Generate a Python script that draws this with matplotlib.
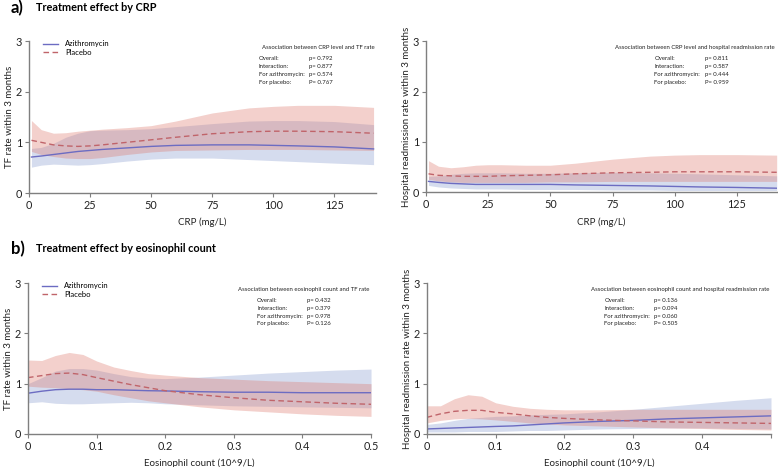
import numpy as np
import matplotlib
matplotlib.use("Agg")
from matplotlib import pyplot as plt

plt.rcParams['font.family'] = ['Lato', 'DejaVu Sans']

# ---- data ----
crp = [1, 5, 10, 15, 20, 25, 30, 40, 50, 60, 75, 90, 100, 110, 125, 141]

tf_crp_azi = [0.71, 0.73, 0.76, 0.79, 0.82, 0.84, 0.86, 0.89, 0.92, 0.94, 0.95, 0.95, 0.94, 0.93, 0.91, 0.87]
tf_crp_azi_lo = [0.51, 0.55, 0.57, 0.56, 0.55, 0.56, 0.58, 0.63, 0.67, 0.69, 0.69, 0.66, 0.64, 0.62, 0.59, 0.56]
tf_crp_azi_hi = [0.88, 0.90, 0.98, 1.10, 1.18, 1.23, 1.24, 1.25, 1.27, 1.31, 1.37, 1.42, 1.43, 1.43, 1.41, 1.35]
tf_crp_pla = [1.04, 1.00, 0.95, 0.93, 0.92, 0.93, 0.95, 1.00, 1.05, 1.10, 1.17, 1.21, 1.22, 1.22, 1.21, 1.18]
tf_crp_pla_lo = [0.82, 0.76, 0.72, 0.69, 0.68, 0.68, 0.70, 0.76, 0.81, 0.84, 0.85, 0.86, 0.86, 0.86, 0.85, 0.84]
tf_crp_pla_hi = [1.43, 1.25, 1.18, 1.19, 1.22, 1.24, 1.26, 1.29, 1.33, 1.42, 1.58, 1.68, 1.71, 1.73, 1.73, 1.69]

hr_crp_azi = [0.22, 0.20, 0.18, 0.17, 0.16, 0.16, 0.16, 0.16, 0.16, 0.15, 0.14, 0.13, 0.12, 0.11, 0.10, 0.085]
hr_crp_azi_lo = [0.14, 0.11, 0.09, 0.08, 0.07, 0.07, 0.07, 0.06, 0.06, 0.06, 0.05, 0.05, 0.04, 0.04, 0.04, 0.04]
hr_crp_azi_hi = [0.32, 0.33, 0.36, 0.38, 0.39, 0.39, 0.39, 0.38, 0.38, 0.39, 0.40, 0.39, 0.38, 0.37, 0.35, 0.33]
hr_crp_pla = [0.37, 0.34, 0.33, 0.32, 0.32, 0.32, 0.33, 0.34, 0.35, 0.37, 0.39, 0.40, 0.41, 0.41, 0.41, 0.40]
hr_crp_pla_lo = [0.26, 0.23, 0.21, 0.20, 0.20, 0.20, 0.20, 0.20, 0.21, 0.21, 0.22, 0.22, 0.22, 0.22, 0.22, 0.22]
hr_crp_pla_hi = [0.63, 0.52, 0.49, 0.51, 0.54, 0.55, 0.55, 0.54, 0.54, 0.58, 0.66, 0.72, 0.74, 0.75, 0.75, 0.74]

eos = [0, 0.02, 0.04, 0.06, 0.08, 0.1, 0.125, 0.15, 0.175, 0.2, 0.25, 0.3, 0.35, 0.4, 0.45, 0.5]

tf_eos_azi = [0.81, 0.85, 0.88, 0.89, 0.89, 0.88, 0.88, 0.87, 0.86, 0.855, 0.84, 0.83, 0.83, 0.82, 0.82, 0.82]
tf_eos_azi_lo = [0.62, 0.64, 0.61, 0.60, 0.60, 0.61, 0.62, 0.63, 0.62, 0.60, 0.58, 0.56, 0.55, 0.54, 0.53, 0.52]
tf_eos_azi_hi = [1.00, 1.12, 1.25, 1.30, 1.30, 1.27, 1.20, 1.14, 1.11, 1.10, 1.13, 1.17, 1.21, 1.24, 1.27, 1.29]
tf_eos_pla = [1.12, 1.16, 1.20, 1.21, 1.18, 1.12, 1.05, 0.98, 0.92, 0.86, 0.78, 0.72, 0.67, 0.64, 0.61, 0.59]
tf_eos_pla_lo = [0.95, 0.93, 0.92, 0.90, 0.88, 0.85, 0.78, 0.72, 0.66, 0.62, 0.54, 0.48, 0.44, 0.40, 0.37, 0.35]
tf_eos_pla_hi = [1.47, 1.46, 1.56, 1.62, 1.58, 1.45, 1.33, 1.26, 1.20, 1.17, 1.12, 1.09, 1.06, 1.04, 1.02, 1.00]

hr_eos_azi = [0.10, 0.11, 0.12, 0.13, 0.14, 0.15, 0.16, 0.18, 0.20, 0.22, 0.25, 0.27, 0.30, 0.32, 0.34, 0.36]
hr_eos_azi_lo = [0.04, 0.04, 0.04, 0.05, 0.05, 0.05, 0.06, 0.07, 0.07, 0.08, 0.10, 0.11, 0.12, 0.12, 0.11, 0.10]
hr_eos_azi_hi = [0.19, 0.22, 0.27, 0.31, 0.33, 0.35, 0.36, 0.38, 0.39, 0.40, 0.44, 0.49, 0.55, 0.61, 0.67, 0.72]
hr_eos_pla = [0.33, 0.40, 0.45, 0.47, 0.47, 0.43, 0.40, 0.36, 0.33, 0.31, 0.28, 0.26, 0.24, 0.23, 0.22, 0.21]
hr_eos_pla_lo = [0.22, 0.27, 0.30, 0.31, 0.30, 0.28, 0.25, 0.22, 0.20, 0.18, 0.16, 0.14, 0.12, 0.11, 0.09, 0.08]
hr_eos_pla_hi = [0.56, 0.56, 0.70, 0.78, 0.75, 0.62, 0.55, 0.51, 0.49, 0.48, 0.48, 0.49, 0.49, 0.49, 0.49, 0.49]

stat_rows = ["Overall:", "Interaction:", "For azithromycin:", "For placebo:"]
p_tf_crp = ["p= 0.792", "p= 0.877", "p= 0.574", "P= 0.767"]
p_hr_crp = ["p= 0.811", "p= 0.587", "p= 0.444", "P= 0.959"]
p_tf_eos = ["p= 0.432", "p= 0.379", "p= 0.978", "P= 0.126"]
p_hr_eos = ["p= 0.136", "p= 0.094", "p= 0.060", "P= 0.505"]

BLUE = "#6c6cc2"
RED = "#c0646a"
BLUE_FILL = "#d5dcee"
RED_FILL = "#dd796d"
GREY = "#7f7f7f"
TXT = "#222222"


def draw_panel(ax, x, azi, azi_lo, azi_hi, pla, pla_lo, pla_hi, xlim, xticks, xticklabels,
               xlabel, ylabel, assoc_title, pvals, assoc_x0, legend=False):
    ax.fill_between(x, azi_lo, azi_hi, color=BLUE_FILL, lw=0)
    ax.fill_between(x, pla_lo, pla_hi, color=RED_FILL, alpha=0.35, lw=0)
    ax.plot(x, azi, color=BLUE, lw=1.0, label="Azithromycin")
    ax.plot(x, pla, color=RED, lw=1.0, ls=(0, (4, 2.5)), label="Placebo")
    ax.set_xlim(*xlim)
    ax.set_ylim(0, 3)
    ax.set_yticks([0, 1, 2, 3])
    ax.set_xticks(xticks)
    ax.set_xticklabels(xticklabels)
    for s in ["top", "right"]:
        ax.spines[s].set_visible(False)
    for s in ["left", "bottom"]:
        ax.spines[s].set_color(GREY)
        ax.spines[s].set_linewidth(1.0)
    ax.tick_params(colors=GREY, labelcolor=TXT, labelsize=7.8, length=3, width=0.8, pad=2)
    ax.set_xlabel(xlabel, fontsize=7, color=TXT, labelpad=5)
    ax.set_ylabel(ylabel, fontsize=7, color=TXT, labelpad=1)
    if legend:
        ax.legend(loc="upper left", bbox_to_anchor=(0.02, 1.05), frameon=False, fontsize=5.5,
                  handlelength=2.0, handletextpad=0.9, labelspacing=0.2)
    # association box
    tr = ax.transAxes
    ax.text(0.995, 0.955, assoc_title, transform=tr, ha="right", va="center", fontsize=4.3, color=TXT)
    for i, (lab, pv) in enumerate(zip(stat_rows, pvals)):
        yy = 0.885 - i * 0.052
        ax.text(assoc_x0, yy, lab, transform=tr, ha="left", va="center", fontsize=4.3, color=TXT)
        ax.text(assoc_x0 + 0.145, yy, pv, transform=tr, ha="left", va="center", fontsize=4.3, color=TXT)


fig = plt.figure(figsize=(7.78, 4.67), dpi=100)

ax1 = fig.add_axes([0.0373, 0.5867, 0.446, 0.3255])
ax2 = fig.add_axes([0.5476, 0.5878, 0.4507, 0.3244])
ax3 = fig.add_axes([0.0360, 0.0707, 0.4409, 0.3233])
ax4 = fig.add_axes([0.5485, 0.0707, 0.4425, 0.3233])

crp_ticks = [0, 25, 50, 75, 100, 125]
eos_ticks = [0, 0.1, 0.2, 0.3, 0.4, 0.5]

draw_panel(ax1, crp, tf_crp_azi, tf_crp_azi_lo, tf_crp_azi_hi, tf_crp_pla, tf_crp_pla_lo, tf_crp_pla_hi,
           (0, 142), crp_ticks, [str(t) for t in crp_ticks], "CRP (mg/L)", "TF rate within 3 months",
           "Association between CRP level and TF rate", p_tf_crp, 0.662, legend=True)
draw_panel(ax2, crp, hr_crp_azi, hr_crp_azi_lo, hr_crp_azi_hi, hr_crp_pla, hr_crp_pla_lo, hr_crp_pla_hi,
           (0, 141), crp_ticks, [str(t) for t in crp_ticks], "CRP (mg/L)",
           "Hospital readmission rate within 3 months",
           "Association between CRP level and hospital readmission rate", p_hr_crp, 0.651)
draw_panel(ax3, eos, tf_eos_azi, tf_eos_azi_lo, tf_eos_azi_hi, tf_eos_pla, tf_eos_pla_lo, tf_eos_pla_hi,
           (0, 0.5), eos_ticks, ["0", "0.1", "0.2", "0.3", "0.4", "0.5"], "Eosinophil count (10^9/L)",
           "TF rate within 3 months",
           "Association between eosinophil count and TF rate", p_tf_eos, 0.668, legend=True)
draw_panel(ax4, eos, hr_eos_azi, hr_eos_azi_lo, hr_eos_azi_hi, hr_eos_pla, hr_eos_pla_lo, hr_eos_pla_hi,
           (0, 0.5), eos_ticks, ["0", "0.1", "0.2", "0.3", "0.4", ""], "Eosinophil count (10^9/L)",
           "Hospital readmission rate within 3 months",
           "Association between eosinophil count and hospital readmission rate", p_hr_eos, 0.516)

fig.text(0.014, 0.982, "a)", fontsize=12, fontweight="bold", va="center", ha="left")
fig.text(0.046, 0.984, "Treatment effect by CRP", fontsize=7.8, fontweight="bold", va="center", ha="left")
fig.text(0.014, 0.466, "b)", fontsize=12, fontweight="bold", va="center", ha="left")
fig.text(0.046, 0.468, "Treatment effect by eosinophil count", fontsize=7.8, fontweight="bold",
         va="center", ha="left")

fig.savefig("out.png", dpi=100)
